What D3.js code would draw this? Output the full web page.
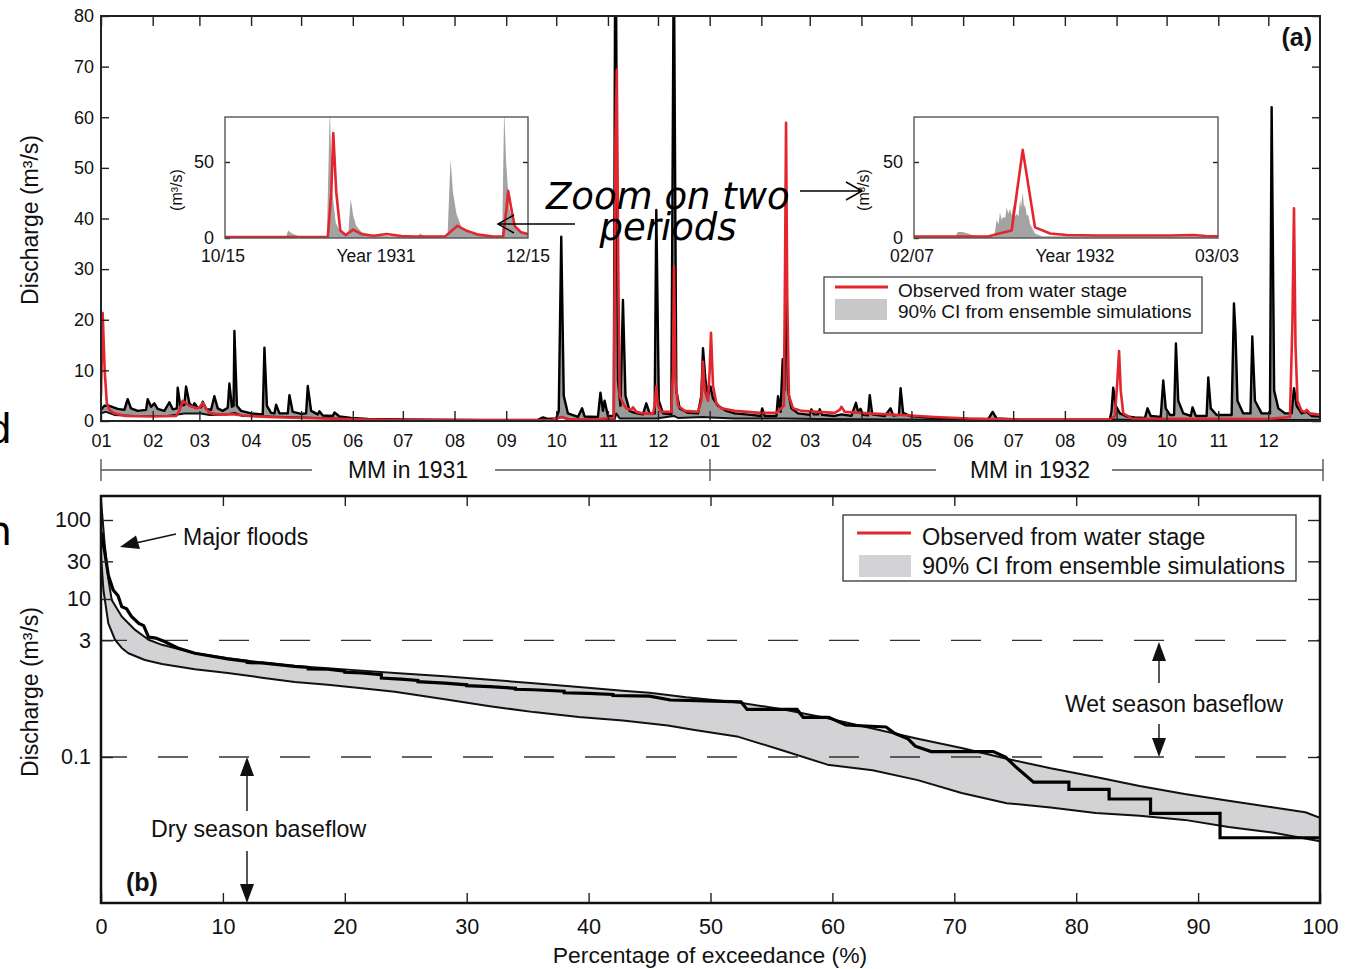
<!DOCTYPE html>
<html><head><meta charset="utf-8">
<script src="https://cdn.jsdelivr.net/npm/d3@7"></script>
<style>body{margin:0;background:#fff}svg{display:block}</style>
</head><body>
<svg id="c" width="1349" height="969"></svg>
<script>
// ---------- DATA ----------
// Panel (a): [day since 1931-01-01, discharge m3/s]
const ciUpper = [[0,2.2],[2,3.0],[5,3.0],[10,2.4],[14,2.2],[16,4.3],[18,2.5],[22,2.0],[27,2.2],[28,4.3],[30,2.8],[32,3.5],[34,2.4],[38,2.0],[41,3.7],[43,2.3],[45.5,2.5],[46,6.6],[47.5,3.0],[50,3.2],[51,6.8],[53,3.5],[55,2.8],[56,3.5],[58,2.6],[60,2.7],[61,3.8],[63,2.4],[66,2.2],[68,4.9],[70,2.5],[73,2.0],[76,2.6],[77,7.4],[78.5,2.8],[79.5,3.0],[80,17.8],[81.5,3.0],[84,2.0],[90,1.5],[97,1.3],[98,14.5],[99.5,3.0],[102,1.6],[104,1.5],[105,3.2],[107,1.5],[112,1.5],[113,5.1],[115,1.8],[120,1.4],[123,1.5],[124,6.9],[126,2.0],[130,1.3],[131,1.9],[133,1.1],[139,1.0],[140,1.7],[143,0.9],[150,0.6],[160,0.4],[180,0.3],[200,0.25],[230,0.2],[262,0.25],[265,0.7],[268,0.4],[273,0.5],[274.5,2.0],[276,36.4],[277.5,5],[280,1.5],[286,0.8],[288.5,2.5],[290,0.9],[298,0.8],[299.5,5.6],[301,2.0],[302,4.0],[304,1.0],[307.5,1.0],[308.5,110],[310,8],[311.5,3],[313,23.9],[314.5,5],[317,2.0],[320,1.6],[325,1.3],[327,3.5],[329,1.5],[332,1.5],[333,41.7],[334.5,4],[337,1.5],[342,1.3],[343.5,95],[345,6],[347,2.5],[352,1.6],[358,1.5],[360,5],[361,14.4],[362.5,8],[364,5],[365.5,6.8],[367,4.5],[370,3],[375,2],[380,1.5],[390,1.2],[395.5,1.0],[396.5,2.5],[398,1.0],[405,1.0],[406,4.9],[407.5,1.8],[408.8,12.2],[409.8,6],[410.8,30],[412,6],[414,2.5],[418,1.5],[425,1.2],[426,2.3],[427.5,1.3],[430,1.3],[431,2.3],[432.5,1.2],[440,1.0],[444,1.3],[450,1.0],[452.7,3.6],[454,1.8],[455.5,2.4],[457,1.2],[460,1.1],[461,5.1],[462.5,1.3],[470,1.0],[473.5,2.5],[475,1.1],[478.5,1.2],[479.5,6.5],[481,1.6],[485,1.0],[500,0.6],[520,0.4],[532,0.35],[534.7,1.8],[537,0.5],[550,0.3],[580,0.25],[605,0.3],[606,2],[607,6.6],[608.5,3],[611,1.5],[615,0.9],[620,0.7],[626,0.6],[627.6,2.5],[629.5,1.0],[635.5,0.8],[637,8],[638.5,2.5],[641,1.2],[643.5,1.2],[644.6,15.3],[646,4],[649,1.5],[653.5,1.0],[654.6,2.7],[656.5,1.0],[663,1.0],[664,8.6],[665.5,2.5],[669,1.2],[678,1.2],[679.4,23.2],[680.3,17.6],[681.5,4],[685,1.5],[689.3,1.5],[690.4,16.7],[692,4],[696,1.5],[701,1.5],[702,62],[703.5,6],[706,2.5],[710,1.5],[714,1.5],[715.4,6.5],[717,3],[720,1.5],[723,1.8],[726,1.0],[731,0.9]];
const ciLower = [[0,1.5],[3,1.8],[8,1.2],[20,1.0],[40,1.0],[46,1.3],[50,1.5],[60,1.5],[65,1.2],[75,1.3],[80,1.6],[85,1.0],[100,0.9],[120,0.7],[140,0.5],[160,0.3],[200,0.15],[270,0.1],[276,0.8],[280,0.4],[308,0.3],[309,1.5],[311,0.5],[333,0.5],[343.5,1.0],[346,0.6],[361,0.8],[366,0.7],[380,0.5],[410,0.5],[430,0.4],[480,0.3],[540,0.15],[600,0.1],[607,0.3],[620,0.2],[731,0.2]];
const observed = [[0,5],[1,21.3],[2.2,10],[3.5,3.5],[5,2.2],[8,1.5],[15,1.0],[30,0.9],[45,1.0],[47,2.0],[49,4.0],[51,3.5],[53,3.0],[55,2.8],[57,2.5],[59,2.6],[61,3.6],[63,2.5],[65,1.6],[70,1.3],[80,1.3],[85,1.1],[100,0.8],[120,0.6],[140,0.45],[160,0.3],[180,0.2],[230,0.15],[270,0.15],[276,0.8],[280,0.4],[295,0.3],[302,0.5],[307.5,0.5],[308.5,55],[309.3,69.4],[310.2,30],[311,5],[313,3.5],[315,2.5],[318,2.2],[319,2.7],[321,1.8],[325,1.5],[331,1.4],[332,3],[333,6.8],[334,3],[336,1.8],[342,1.8],[343,10],[343.6,30.5],[344.5,8],[346,3],[350,2.0],[358,1.8],[360,4],[361,11.7],[362,6],[364,4],[365,10],[365.8,17.4],[367,7],[369,3.5],[372,2.5],[380,2.0],[395,1.6],[405,1.6],[409.5,3],[410.2,30],[410.8,58.9],[411.5,25],[412.5,5],[415,2.5],[420,2.0],[440,1.6],[443,2.2],[444,2.8],[446,1.8],[460,1.5],[480,1.2],[500,0.8],[520,0.5],[550,0.3],[605,0.3],[608,1],[609.5,8],[610.5,13.8],[611.5,6],[613,1.5],[618,0.5],[700,0.4],[713,0.8],[714.5,20],[715.4,42],[716.3,15],[717.5,4],[720,2.0],[722,1.8],[723,2.2],[725,1.5],[731,1.2]];
const yTicksA = [0,10,20,30,40,50,60,70,80];

// Inset 1: days since 1931-10-15 ; Inset 2: days since 1932-02-07
const inset1Upper = [[0,0.5],[1,1.2],[1.6,0.5],[12.3,0.6],[12.7,5],[13.5,3],[15,1],[17,0.5],[20.5,0.5],[21.1,85],[21.6,30],[22.3,10],[23.2,4],[24.8,2],[25.3,26],[25.8,15],[26.4,8],[27.5,4],[29.5,2],[33,1.2],[38.8,1],[39.3,3],[40.2,1],[44.8,1],[45.4,52],[45.9,30],[46.6,16],[47.6,7],[49.5,3],[52,1.5],[55.8,1],[56.2,85],[56.6,50],[57.2,20],[58.2,8],[59.8,4],[61,3]];
const inset1Obs = [[0,0.6],[20.7,0.6],[21.4,30],[21.8,69],[22.4,30],[23.2,5],[24.3,2],[25.8,5.5],[27.5,2.5],[30,1.5],[32.5,2.6],[35.5,1.3],[38,1],[44.3,1],[45.7,5],[46.8,8],[48.5,5],[51,2.2],[54,1],[56,1],[56.7,20],[57,31],[57.6,20],[58.3,8],[59.5,4],[61,2.5]];
const inset2Upper = [[0,1],[3.4,1],[3.6,4],[4.0,4],[5.0,1.5],[6.6,1],[6.8,12],[6.95,9],[7.07,17],[7.2,12],[7.34,14],[7.5,13],[7.62,20],[7.75,16],[7.89,19],[8.03,15],[8.17,22],[8.3,14],[8.44,16],[8.58,14],[8.72,25],[8.8,20],[8.94,30],[9.05,20],[9.13,22],[9.27,15],[9.4,15],[9.55,9],[9.68,7],[9.95,3],[10.5,1.2],[25,1]];
const inset2Obs = [[0,1],[6.1,1],[7.0,3],[8.03,5],[8.94,58],[9.95,7],[11.2,3],[12.56,2],[15,1.6],[21,1.6],[23,2],[24,1.3],[25,1.2]];

// Panel (b): [percentage of exceedance, discharge]
const fdcUpper = [[0,180],[0.3,50],[0.6,18],[0.88,9.7],[1.7,6.0],[2.8,4.06],[3.9,3.05],[5.0,2.63],[7.7,2.06],[10.4,1.78],[13.2,1.57],[15.9,1.42],[18.6,1.33],[21.4,1.24],[24.1,1.16],[28.2,1.05],[31.9,0.95],[35.5,0.86],[39.2,0.77],[42.8,0.69],[45,0.65],[48,0.57],[52.3,0.49],[56,0.40],[59.6,0.31],[63.3,0.23],[67,0.17],[70.6,0.13],[74.3,0.095],[77.9,0.072],[81.6,0.056],[85.2,0.043],[88.9,0.034],[92.5,0.028],[96.2,0.023],[98.8,0.020],[100,0.017]];
const fdcLower = [[0,35],[0.2,13],[0.6,4.9],[1.15,3.05],[1.7,2.4],[2.24,2.06],[3.6,1.69],[5.0,1.5],[7.7,1.29],[10.4,1.16],[13.2,1.01],[15.9,0.89],[18.6,0.82],[21.4,0.74],[24.1,0.67],[28.2,0.54],[31.9,0.44],[35.5,0.37],[39.2,0.32],[42.8,0.29],[46.5,0.25],[48.7,0.22],[52.3,0.18],[56,0.12],[59.6,0.08],[63.3,0.068],[67,0.051],[70.6,0.035],[74.3,0.026],[77.9,0.023],[81.6,0.0195],[85.2,0.018],[88.9,0.016],[92.5,0.013],[96.2,0.011],[100,0.0086]];
const fdcObs = [[0,70],[0.3,40],[0.6,20],[1.0,13],[1.4,11],[1.7,8],[2.1,7.5],[2.5,6],[3.1,4.9],[3.5,4.6],[3.9,3.3],[4.5,3.2],[5.2,2.9],[6.3,2.4],[7.7,2.06],[10.4,1.75],[12,1.62],[12,1.57],[13.2,1.55],[15.9,1.40],[17,1.36],[17,1.3],[18.6,1.29],[20,1.22],[20,1.18],[21.4,1.16],[23,1.1],[23,1.0],[24.6,0.97],[26,0.93],[26,0.9],[28.2,0.86],[30,0.82],[30,0.8],[31.9,0.78],[34,0.74],[34,0.72],[35.5,0.71],[38,0.68],[38,0.65],[40,0.64],[42,0.62],[42,0.6],[45,0.59],[46.7,0.527],[52.5,0.5],[53,0.40],[57.1,0.40],[57.6,0.318],[59.7,0.318],[61.1,0.254],[64.4,0.24],[65.1,0.20],[66.2,0.17],[66.8,0.137],[68.1,0.117],[73.2,0.117],[74.2,0.10],[75.0,0.076],[76.5,0.048],[79.4,0.048],[79.4,0.039],[82.7,0.039],[82.7,0.0294],[86.1,0.0294],[86.1,0.0193],[91.8,0.0193],[91.8,0.0095],[100,0.0095]];
const xTicksB = [0,10,20,30,40,50,60,70,80,90,100];
const yTicksB = [0.1,3,10,30,100];
const baseflowLines = [3,0.1];

// ---------- DRAW ----------
const F = '"Liberation Sans", Arial, Helvetica, sans-serif';
const RED = "#e3262d";
const svg = d3.select("#c");
const T0 = Date.UTC(1931,0,1);
const dd = d => new Date(T0 + d*864e5);

function txt(g,x,y,s,size,o={}){
  const t=g.append("text").attr("x",x).attr("y",y).text(s)
   .attr("font-family",o.family||F).attr("font-size",size).attr("fill",o.fill||"#111");
  if(o.anchor) t.attr("text-anchor",o.anchor);
  if(o.weight) t.attr("font-weight",o.weight);
  if(o.style) t.attr("font-style",o.style);
  if(o.transform) t.attr("transform",o.transform);
  return t;
}
function styleAxis(g,size){
  g.select(".domain").remove();
  g.selectAll(".tick line").attr("stroke","#222").attr("stroke-width",1.4);
  g.selectAll(".tick text").attr("font-family",F).attr("font-size",size).attr("fill","#111");
}
const defs = svg.append("defs");

// ===== Panel (a) =====
const xT = d3.scaleUtc().domain([new Date(T0), new Date(Date.UTC(1933,0,1))]).range([101,1320]);
const yT = d3.scaleLinear().domain([0,80]).range([421,16]);
defs.append("clipPath").attr("id","clipA").append("rect").attr("x",101).attr("y",16).attr("width",1219).attr("height",405);
const months = d3.utcMonth.range(new Date(T0), new Date(Date.UTC(1933,0,1)));
const lineA = d3.line().x(d=>xT(dd(d[0]))).y(d=>yT(d[1]));
const gA = svg.append("g").attr("clip-path","url(#clipA)");
gA.append("path").attr("d", lineA(ciUpper.concat(ciLower.slice().reverse()))+"Z").attr("fill","#9a9a9a");
gA.append("path").attr("d", lineA(ciLower)).attr("fill","none").attr("stroke","#111").attr("stroke-width",2).attr("stroke-linejoin","round");
gA.append("path").attr("d", lineA(ciUpper)).attr("fill","none").attr("stroke","#000").attr("stroke-width",2.4).attr("stroke-linejoin","round");
gA.append("path").attr("d", lineA(observed)).attr("fill","none").attr("stroke",RED).attr("stroke-width",2.6).attr("stroke-linejoin","round");

// axes (a)
styleAxis(svg.append("g").attr("transform","translate(101,0)").call(d3.axisLeft(yT).tickValues(yTicksA).tickSize(-8).tickPadding(7)),18);
styleAxis(svg.append("g").attr("transform","translate(1320,0)").call(d3.axisRight(yT).tickValues(yTicksA).tickSize(-8).tickFormat("")),18);
styleAxis(svg.append("g").attr("transform","translate(0,421)").call(d3.axisBottom(xT).tickValues(months).tickSize(-10).tickPadding(13.5).tickFormat(d3.utcFormat("%m"))),18);
styleAxis(svg.append("g").attr("transform","translate(0,16)").call(d3.axisTop(xT).tickValues(months).tickSize(-10).tickFormat("")),18);
svg.append("rect").attr("x",101).attr("y",16).attr("width",1219).attr("height",405).attr("fill","none").attr("stroke","#222").attr("stroke-width",2);
txt(svg,0,0,"Discharge (m³/s)",23,{anchor:"middle",transform:"translate(38,220) rotate(-90)"});
txt(svg,1312,46,"(a)",25,{anchor:"end",weight:"bold"});

// year brackets
const gY = svg.append("g").attr("stroke","#555").attr("stroke-width",1.4);
[[101,312],[495,710],[710,936],[1112,1323]].forEach(s=>gY.append("line").attr("x1",s[0]).attr("x2",s[1]).attr("y1",470).attr("y2",470));
[101,710,1323].forEach(x=>gY.append("line").attr("x1",x).attr("x2",x).attr("y1",459).attr("y2",481));
txt(svg,408,478,"MM in 1931",23,{anchor:"middle"});
txt(svg,1030,478,"MM in 1932",23,{anchor:"middle"});

// insets
function inset(x0,x1,days,upper,obs,labels,ylabX,id){
  const xI = d3.scaleLinear().domain([0,days]).range([x0,x1]);
  const yI = d3.scaleLinear().domain([0,80]).range([238,116.4]);
  svg.append("rect").attr("x",x0).attr("y",117).attr("width",x1-x0).attr("height",121).attr("fill","#fff");
  defs.append("clipPath").attr("id",id).append("rect").attr("x",x0).attr("y",117).attr("width",x1-x0).attr("height",121);
  const g = svg.append("g").attr("clip-path",`url(#${id})`);
  const ln = d3.line().x(d=>xI(d[0])).y(d=>yI(d[1]));
  const poly = [[0,0]].concat(upper,[[days,0]]);
  g.append("path").attr("d",ln(poly)+"Z").attr("fill","#a3a3a3");
  g.append("path").attr("d",ln(obs)).attr("fill","none").attr("stroke",RED).attr("stroke-width",2.6).attr("stroke-linejoin","round");
  styleAxis(svg.append("g").attr("transform",`translate(${x0},0)`).call(d3.axisLeft(yI).tickValues([0,50]).tickSize(-5).tickPadding(11)),18);
  styleAxis(svg.append("g").attr("transform",`translate(${x1},0)`).call(d3.axisRight(yI).tickValues([50]).tickSize(-5).tickFormat("")),18);
  svg.append("rect").attr("x",x0).attr("y",117).attr("width",x1-x0).attr("height",121).attr("fill","none").attr("stroke","#555").attr("stroke-width",1.4);
  labels.forEach(l=>txt(svg,l[0],262,l[1],17.5,{anchor:"middle"}));
  txt(svg,0,0,"(m³/s)",16,{anchor:"middle",transform:`translate(${ylabX},190) rotate(-90)`});
}
inset(225,528,61,inset1Upper,inset1Obs,[[223,"10/15"],[376,"Year 1931"],[528,"12/15"]],182,"clipI1");
inset(914,1218,25,inset2Upper,inset2Obs,[[912,"02/07"],[1075,"Year 1932"],[1217,"03/03"]],869,"clipI2");

// legend (a)
svg.append("rect").attr("x",824).attr("y",277).attr("width",378).attr("height",56).attr("fill","#fff").attr("stroke","#444").attr("stroke-width",1.3);
svg.append("line").attr("x1",835).attr("x2",888).attr("y1",287).attr("y2",287).attr("stroke",RED).attr("stroke-width",3);
svg.append("rect").attr("x",835).attr("y",299).attr("width",52).attr("height",21).attr("fill","#c8c8c8");
txt(svg,898,297,"Observed from water stage",19);
txt(svg,898,318,"90% CI from ensemble simulations",19);

// zoom annotation
txt(svg,546,209,"Zoom on two",37,{family:'"DejaVu Sans", sans-serif',style:"oblique",fill:"#000"});
txt(svg,668,240,"periods",37,{family:'"DejaVu Sans", sans-serif',style:"oblique",fill:"#000",anchor:"middle"});
const gZ = svg.append("g").attr("stroke","#000").attr("stroke-width",1.5).attr("fill","none");
gZ.append("path").attr("d","M575,224 L498,224 M514,215 L498,224 L514,233");
gZ.append("path").attr("d","M800,191 L862,191 M846,182 L862,191 L846,200");

// ===== Panel (b) =====
const xP = d3.scaleLinear().domain([0,100]).range([101,1320]);
const yQ = d3.scaleLog().domain([0.001419,201.3]).range([903,496]);
const lineB = d3.line().x(d=>xP(d[0])).y(d=>yQ(d[1]));
defs.append("clipPath").attr("id","clipB").append("rect").attr("x",101).attr("y",496).attr("width",1219).attr("height",407);
const gB = svg.append("g").attr("clip-path","url(#clipB)");
gB.append("path").attr("d",lineB(fdcUpper.concat(fdcLower.slice().reverse()))+"Z").attr("fill","#d3d3d5");
baseflowLines.forEach(q=>gB.append("line").attr("x1",101).attr("x2",1320).attr("y1",yQ(q)).attr("y2",yQ(q))
  .attr("stroke","#333").attr("stroke-width",1.3).attr("stroke-dasharray","30,31").attr("stroke-dashoffset",4));
gB.append("path").attr("d",lineB(fdcLower)).attr("fill","none").attr("stroke","#111").attr("stroke-width",2).attr("stroke-linejoin","round");
gB.append("path").attr("d",lineB(fdcUpper)).attr("fill","none").attr("stroke","#111").attr("stroke-width",2).attr("stroke-linejoin","round");
gB.append("path").attr("d",lineB(fdcObs)).attr("fill","none").attr("stroke","#000").attr("stroke-width",3.2).attr("stroke-linejoin","miter");

styleAxis(svg.append("g").attr("transform","translate(0,903)").call(d3.axisBottom(xP).tickValues(xTicksB).tickSize(-10).tickPadding(15.4)),21.6);
styleAxis(svg.append("g").attr("transform","translate(0,496)").call(d3.axisTop(xP).tickValues(xTicksB.slice(1,-1)).tickSize(-10).tickFormat("")),21.6);
styleAxis(svg.append("g").attr("transform","translate(101,0)").call(d3.axisLeft(yQ).tickValues(yTicksB).tickSize(-12).tickPadding(10).tickFormat(d=>String(d))),21.6);
styleAxis(svg.append("g").attr("transform","translate(1320,0)").call(d3.axisRight(yQ).tickValues(yTicksB).tickSize(-12).tickFormat("")),21.6);
svg.append("rect").attr("x",101).attr("y",496).attr("width",1219).attr("height",407).attr("fill","none").attr("stroke","#111").attr("stroke-width",2.5);
txt(svg,0,0,"Discharge (m³/s)",23,{anchor:"middle",transform:"translate(38,692) rotate(-90)"});
txt(svg,710,963,"Percentage of exceedance (%)",22.9,{anchor:"middle"});
txt(svg,126,891,"(b)",25,{weight:"bold"});

// legend (b)
svg.append("rect").attr("x",843).attr("y",515).attr("width",453).attr("height",66).attr("fill","#fff").attr("stroke","#333").attr("stroke-width",1.3);
svg.append("line").attr("x1",857).attr("x2",911).attr("y1",533).attr("y2",533).attr("stroke",RED).attr("stroke-width",3);
svg.append("rect").attr("x",859).attr("y",555).attr("width",52).attr("height",22).attr("fill","#d3d3d5");
txt(svg,922,545,"Observed from water stage",23.5);
txt(svg,922,574,"90% CI from ensemble simulations",23.5);

// annotations (b)
const gAn = svg.append("g").attr("stroke","#111").attr("stroke-width",1.4);
function arrowV(x,y1,y2){
  const dir = y2>y1?1:-1, hb = y2 - dir*19;
  gAn.append("line").attr("x1",x).attr("x2",x).attr("y1",y1).attr("y2",hb);
  svg.append("path").attr("d",`M${x},${y2} L${x-7},${hb} L${x+7},${hb} Z`).attr("fill","#111");
}
arrowV(247,811,757); arrowV(247,851,903);
arrowV(1159,683,642); arrowV(1159,724,757);
gAn.append("line").attr("x1",176).attr("y1",534).attr("x2",138).attr("y2",542.5);
svg.append("path").attr("d","M120,547 L136,535.5 L140,549 Z").attr("fill","#111");
txt(svg,183,545,"Major floods",23);
txt(svg,151,837,"Dry season baseflow",23.2);
txt(svg,1065,712,"Wet season baseflow",23);

// stray glyphs at left edge
txt(svg,-14,443,"d",41,{family:'"DejaVu Sans", sans-serif',fill:"#000"});
txt(svg,-14,545,"n",41,{family:'"DejaVu Sans", sans-serif',fill:"#000"});
</script>
</body></html>
